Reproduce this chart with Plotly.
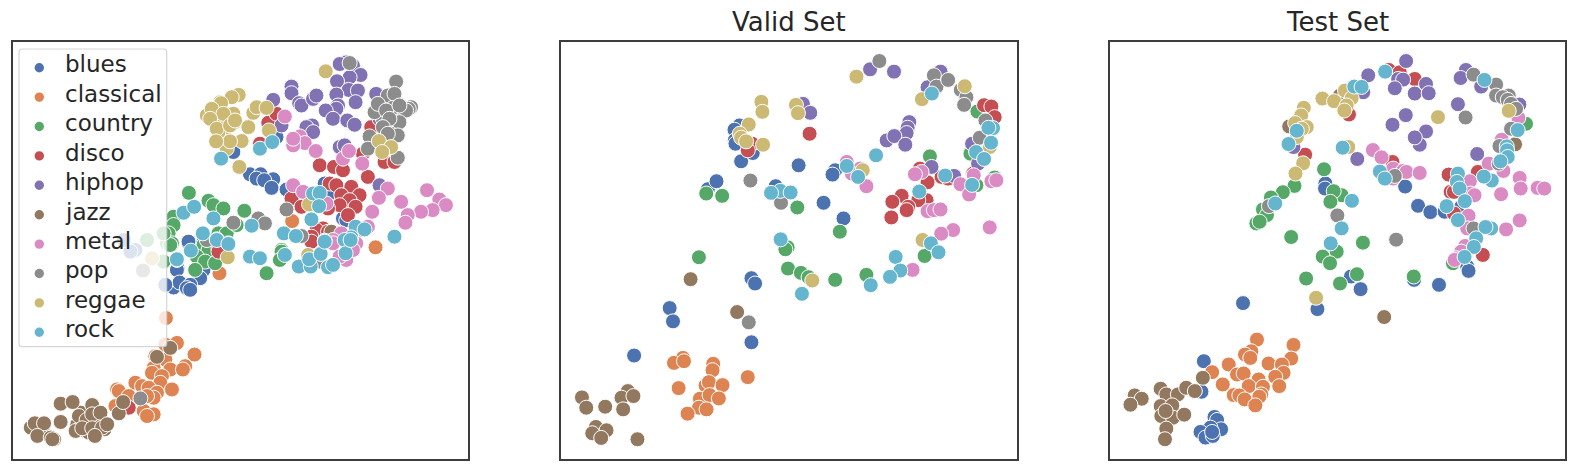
import plotly.graph_objects as go

WIDTH, HEIGHT = 1578, 471
CLASSES = ["blues", "classical", "country", "disco", "hiphop", "jazz", "metal", "pop", "reggae", "rock"]
COLORS = ["#4c72b0", "#dd8452", "#55a868", "#c44e52", "#8172b3", "#937860", "#da8bc3", "#8c8c8c", "#ccb974", "#64b5cd"]

train_blues = [(750,522),(782,522),(770,535),(820,537),(793,540),(815,563),(860,568),(975,550),(990,580),(1030,655),(1040,660),(830,410),(700,455),(565,730),(565,725),(532,805),(530,810),(610,810),(600,835),(520,863),(538,848),(570,855),(560,865),(570,870),(495,855),(405,750),(390,755),(370,720)]
train_classical = [(877,663),(1128,742),(658,820),(497,955),(530,1030),(495,1035),(583,1065),(465,1070),(495,1080),(510,1110),(460,1105),(555,1100),(548,1110),(455,1120),(485,1130),(480,1150),(405,1150),(350,1170),(355,1175),(425,1160),(445,1165),(470,1180),(515,1170),(460,1195),(440,1190),(385,1190),(345,1220),(430,1235),(460,1245),(440,1250)]
train_country = [(566,578),(625,602),(640,615),(670,625),(733,632),(520,650),(520,675),(505,700),(655,700),(680,700),(610,725),(500,730),(635,730),(710,675),(845,750),(515,730),(510,735),(610,735),(625,750),(530,780),(590,770),(615,785),(645,790),(585,810),(750,770),(845,755),(840,780),(800,820),(490,785),(440,720),(490,700)]
train_disco = [(960,495),(1003,500),(1030,510),(1105,530),(1090,460),(1155,485),(1185,485),(1115,380),(805,367),(830,340),(780,430),(875,595),(905,620),(990,550),(1010,555),(1055,560),(1025,585),(1080,585),(1050,600),(1020,615),(1068,620),(985,625),(1045,645),(970,685),(950,690),(935,710),(985,695),(655,745),(655,755),(935,725),(385,1225)]
train_hiphop = [(1040,185),(1020,190),(1060,195),(1083,223),(1050,230),(1012,242),(1047,268),(1075,270),(1010,282),(1015,315),(1068,305),(1010,325),(978,330),(1000,355),(1043,360),(1065,373),(820,298),(875,258),(875,278),(898,308),(905,315),(940,295),(950,285),(845,375),(937,375),(920,380),(940,395),(1130,280),(1020,440),(1035,435),(1140,555),(1140,355)]
train_jazz = [(90,1285),(160,1320),(125,1290),(230,1275),(295,1255),(255,1295),(250,1265),(240,1240),(265,1300),(312,1290),(102,1272),(130,1272),(110,1310),(150,1315),(155,1320),(180,1268),(180,1213),(216,1208),(275,1217),(235,1250),(258,1262),(275,1245),(300,1240),(225,1295),(245,1287),(275,1287),(305,1285),(320,1275),(283,1310),(355,1242),(368,1208),(470,1072),(510,1045),(995,695)]
train_metal = [(855,348),(900,408),(915,428),(880,435),(880,415),(948,452),(1030,475),(1048,452),(1088,490),(880,555),(910,575),(980,610),(1165,565),(1138,593),(1118,635),(1283,570),(1205,605),(1320,598),(1340,615),(1300,630),(1265,635),(1225,645),(1218,668),(1025,700),(1000,720),(1080,690),(1105,680),(1070,730),(1040,780),(1060,750),(1000,730),(1020,770)]
train_pop = [(1160,325),(1235,320),(1165,335),(1205,340),(1150,355),(1180,360),(1175,400),(1195,310),(1228,325),(1050,187),(1190,243),(1165,285),(1185,280),(1125,335),(1180,322),(1220,330),(1135,310),(1160,330),(1200,315),(1200,365),(1170,355),(1150,380),(1195,405),(1165,400),(1110,408),(1105,445),(1195,472),(860,628),(700,668),(775,655),(795,670),(905,708),(420,1197),(428,812),(960,785),(620,720)]
train_reggae = [(660,305),(650,320),(620,345),(640,345),(695,340),(705,365),(680,345),(660,370),(670,400),(680,445),(700,340),(655,395),(640,360),(978,212),(716,283),(695,290),(663,308),(635,325),(670,340),(630,355),(650,385),(690,375),(705,360),(745,380),(725,422),(690,423),(648,423),(760,337),(770,320),(800,322),(807,390),(718,500),(1138,422),(1175,440),(1148,455),(928,613),(683,772),(925,765),(455,775)]
train_rock = [(663,475),(780,445),(817,425),(550,638),(582,620),(640,655),(755,677),(608,700),(650,718),(685,730),(852,700),(888,708),(935,658),(940,580),(960,578),(958,618),(975,722),(1185,710),(1068,680),(1095,688),(1055,712),(1035,720),(530,778),(572,752),(650,720),(685,732),(750,770),(780,775),(855,765),(897,800),(933,800),(928,778),(963,762),(985,802),(1000,795),(975,725),(1038,760),(1053,720)]

valid_blues = [(567,375),(552,388),(553,420),(555,430),(572,483),(607,458),(745,495),(472,567),(498,543),(676,558),(855,510),(847,523),(820,608),(880,655),(603,835),(614,851),(357,925),(367,965),(603,1028),(250,1068)]
valid_classical = [(397,1075),(370,1090),(400,1085),(488,1093),(486,1112),(465,1158),(475,1148),(516,1157),(384,1166),(592,1133),(448,1198),(477,1187),(505,1197),(445,1225),(468,1230),(411,1243)]
valid_country = [(1283,333),(1140,468),(1262,460),(1280,555),(467,580),(515,587),(741,622),(869,695),(712,742),(705,748),(445,772),(713,806),(752,819),(775,832),(855,840),(949,825),(1124,768),(1335,532),(1215,530)]
valid_disco = [(1303,314),(1325,318),(1335,350),(778,400),(605,430),(592,450),(1110,505),(1133,546),(1175,530),(1195,535),(1270,520),(1055,587),(1027,605),(1130,600),(1105,600),(1075,620),(1070,630),(1024,652)]
valid_hiphop = [(1172,213),(960,206),(1032,213),(1133,260),(758,310),(780,337),(1078,365),(1073,382),(1070,398),(1010,420),(1033,407),(1066,433),(1267,430),(1285,490),(1145,500),(1213,527)]
valid_jazz = [(93,1194),(106,1225),(163,1222),(231,1175),(212,1195),(248,1190),(217,1230),(135,1283),(167,1293),(124,1302),(151,1316),(260,1320),(420,838),(560,937)]
valid_metal = [(890,485),(930,505),(905,520),(949,558),(1115,515),(1095,522),(1272,525),(1232,552),(1258,583),(1325,543),(1340,540),(1133,633),(1152,630),(1172,628),(1210,690),(1174,701),(1320,682),(1088,810)]
valid_pop = [(988,181),(1152,224),(1160,258),(1195,238),(1233,268),(1250,290),(1243,313),(1307,360),(1290,412),(600,541),(692,608),(595,968)]
valid_reggae = [(919,228),(1116,296),(1245,257),(633,304),(636,334),(737,313),(743,338),(595,372),(568,400),(572,412),(587,423),(638,433),(938,510),(1320,440),(1118,720),(786,842)]
valid_rock = [(1146,279),(1330,383),(1316,382),(1324,427),(1279,455),(1303,476),(978,465),(890,497),(924,530),(1186,526),(1267,554),(1108,574),(690,572),(662,578),(721,577),(691,718),(1143,730),(1166,757),(1037,771),(1051,812),(1020,831),(962,856),(755,882)]

test_blues = [(691,550),(690,565),(931,559),(970,617),(1007,636),(1050,635),(1100,620),(1118,800),(1122,813),(768,830),(797,868),(958,840),(1033,855),(443,910),(667,928),(325,1085),(318,1177),(357,1253),(365,1262),(377,1290),(345,1285),(315,1298),(330,1315),(352,1310),(350,1298)]
test_classical = [(485,1020),(595,1036),(468,1055),(449,1065),(465,1075),(588,1077),(400,1095),(520,1092),(560,1095),(565,1120),(350,1118),(425,1125),(445,1122),(540,1132),(490,1140),(382,1155),(460,1160),(503,1162),(552,1160),(415,1187),(432,1188),(498,1185),(492,1192),(448,1200),(480,1218)]
test_country = [(687,507),(598,557),(563,576),(527,592),(503,628),(515,645),(483,670),(493,665),(740,585),(716,573),(706,605),(588,711),(804,728),(725,755),(683,770),(705,790),(633,836),(735,851),(786,823),(957,830),(1075,790),(1295,370)]
test_disco = [(882,208),(915,215),(960,235),(762,342),(630,463),(893,485),(1062,523),(1150,515),(1068,575),(1078,575),(1078,640),(1165,765)]
test_hiphop = [(934,181),(820,224),(1114,208),(1098,232),(1160,258),(910,235),(925,237),(900,263),(960,279),(994,250),(1002,278),(805,275),(1090,311),(1275,312),(933,344),(893,373),(994,393),(975,433),(960,411),(787,476),(1148,461),(595,440)]
test_jazz = [(117,1188),(138,1198),(104,1216),(195,1168),(212,1185),(247,1185),(272,1165),(298,1175),(322,1135),(195,1220),(230,1218),(197,1250),(232,1255),(210,1235),(266,1246),(212,1288),(208,1320),(868,952),(1262,432),(582,378),(735,285)]
test_metal = [(834,449),(860,471),(895,505),(925,512),(935,515),(975,518),(895,535),(1272,352),(1222,418),(1183,490),(1227,512),(1126,543),(1276,533),(1279,565),(1220,582),(1128,580),(1140,585),(1330,563),(1350,565),(1122,647),(1118,685),(1235,688),(1276,661),(1112,738),(1100,755),(1085,775),(1080,780)]
test_pop = [(1137,222),(1205,252),(1205,285),(1243,285),(1225,290),(1240,298),(1250,310),(1265,325),(1113,351),(1250,385),(1215,437),(1213,490),(900,527),(521,618),(727,646),(904,719),(1137,685)]
test_reggae = [(750,270),(682,294),(717,302),(770,293),(755,315),(748,330),(626,322),(618,345),(600,368),(635,380),(620,385),(605,410),(624,489),(601,520),(1030,350),(1243,331),(760,440),(663,894)]
test_rock = [(778,258),(800,259),(871,213),(1170,238),(1270,389),(605,391),(580,431),(743,442),(1237,438),(1238,450),(1240,470),(1218,483),(855,514),(870,535),(1192,541),(1168,529),(1090,520),(1087,545),(1095,565),(1111,603),(1056,618),(1090,660),(771,602),(740,685),(707,730),(1190,685),(1173,681),(1145,715),(1138,741),(1110,771),(540,610)]

train = [train_blues, train_classical, train_country, train_disco, train_hiphop, train_jazz, train_metal, train_pop, train_reggae, train_rock]
valid = [valid_blues, valid_classical, valid_country, valid_disco, valid_hiphop, valid_jazz, valid_metal, valid_pop, valid_reggae, valid_rock]
test = [test_blues, test_classical, test_country, test_disco, test_hiphop, test_jazz, test_metal, test_pop, test_reggae, test_rock]

PANELS = [
    ("x", "y", train, (35, 1407), (12.5, 468.2), None),
    ("x2", "y2", valid, (30, 1403), (561.0, 1017.3), "Valid Set"),
    ("x3", "y3", test, (41, 1413), (1109.5, 1565.2), "Test Set"),
]
TOP_PX, BOTTOM_PX = 42.1, 458.5
Y_RANGE = (1378, 124)
FRAME = "#3d3d3d"


def px(x):
    return x / WIDTH


def py(y):
    return 1 - y / HEIGHT


fig = go.Figure()
layout = {}
annotations = []
for xa, ya, groups, x_range, px_range, title in PANELS:
    suffix = xa[1:]
    for idx, (name, color, pts) in enumerate(zip(CLASSES, COLORS, groups)):
        fig.add_trace(go.Scatter(
            x=[p[0] for p in pts], y=[p[1] for p in pts], mode="markers", name=name,
            xaxis=xa, yaxis=ya, showlegend=False,
            marker=dict(color=color, size=15, line=dict(color="white", width=1)),
            cliponaxis=True, hoverinfo="skip",
        ))
    axis_common = dict(showticklabels=False, ticks="", showgrid=False, zeroline=False,
                       showline=True, mirror=True, linecolor=FRAME, linewidth=1.5)
    layout["xaxis" + suffix] = dict(axis_common, range=list(x_range), anchor="y" + suffix,
                                    domain=[px(px_range[0]), px(px_range[1])])
    layout["yaxis" + suffix] = dict(axis_common, range=list(Y_RANGE), anchor="x" + suffix,
                                    domain=[py(BOTTOM_PX), py(TOP_PX)])
    if title:
        annotations.append(dict(text=title, xref="paper", yref="paper",
                                x=px((px_range[0] + px_range[1]) / 2), y=py(22),
                                xanchor="center", yanchor="middle", showarrow=False,
                                font=dict(size=26, color="#262626")))

# Legend panel, drawn above the first panel's points with a translucent background.
L, R, T, B, C = 19.0, 166.7, 49.0, 346.7, 3.0
shapes = [dict(
    type="path", xref="paper", yref="paper", layer="above",
    path=(f"M {px(L+C)},{py(T)} L {px(R-C)},{py(T)} Q {px(R)},{py(T)} {px(R)},{py(T+C)} "
          f"L {px(R)},{py(B-C)} Q {px(R)},{py(B)} {px(R-C)},{py(B)} L {px(L+C)},{py(B)} "
          f"Q {px(L)},{py(B)} {px(L)},{py(B-C)} L {px(L)},{py(T+C)} Q {px(L)},{py(T)} {px(L+C)},{py(T)} Z"),
    fillcolor="rgba(255,255,255,0.8)", line=dict(color="rgba(204,204,204,0.8)", width=1.2),
)]
ROW0, STEP, RAD = 67.7, 29.4, 4.7
for i, (name, color) in enumerate(zip(CLASSES, COLORS)):
    yc = ROW0 + i * STEP
    shapes.append(dict(type="circle", xref="paper", yref="paper", layer="above",
                       x0=px(39.3 - RAD), x1=px(39.3 + RAD), y0=py(yc + RAD), y1=py(yc - RAD),
                       fillcolor=color, line=dict(width=0)))
    annotations.append(dict(text=name, xref="paper", yref="paper", x=px(62.5), y=py(yc - 3.2),
                            xanchor="left", yanchor="middle", showarrow=False,
                            font=dict(size=23, color="#262626")))

fig.update_layout(
    width=WIDTH, height=HEIGHT, margin=dict(l=0, r=0, t=0, b=0),
    paper_bgcolor="white", plot_bgcolor="white",
    font=dict(family="DejaVu Sans", color="#262626"),
    annotations=annotations, shapes=shapes, showlegend=False,
    **layout,
)
fig.write_html("out.html", config={"displayModeBar": False},
               post_script="document.body.style.margin='0';document.body.style.overflow='hidden';")
